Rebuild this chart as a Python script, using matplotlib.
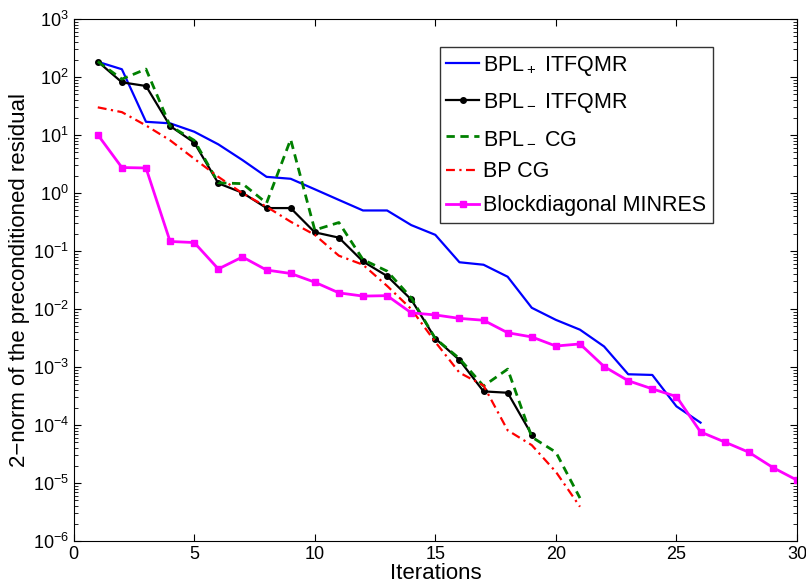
import matplotlib
matplotlib.use("Agg")
import matplotlib.pyplot as plt
from matplotlib.ticker import MultipleLocator, LogLocator, NullFormatter

plt.rcParams['font.family'] = ['Liberation Sans', 'DejaVu Sans']
plt.rcParams['mathtext.fontset'] = 'custom'
plt.rcParams['mathtext.rm'] = 'Liberation Sans'
plt.rcParams['mathtext.it'] = 'Liberation Sans:italic'
plt.rcParams['mathtext.bf'] = 'Liberation Sans:bold'

# residual histories
blue = [183, 136, 16.9, 15.9, 11.4, 6.9, 3.7, 1.9, 1.76, 1.16, 0.76, 0.50, 0.50,
        0.28, 0.19, 0.064, 0.058, 0.036, 0.0105, 0.0065, 0.0044, 0.00226,
        0.00075, 0.00073, 0.00021, 0.00011]
black = [185, 81, 70, 14.3, 7.4, 1.47, 1.01, 0.55, 0.55, 0.21, 0.17, 0.066,
         0.037, 0.0146, 0.0031, 0.00132, 0.00038, 0.00036, 6.8e-5]
green = [185, 92, 137, 14.3, 8.1, 1.5, 1.45, 0.67, 8.4, 0.23, 0.31, 0.071,
         0.045, 0.0156, 0.0031, 0.0014, 0.00047, 0.00092, 6.2e-5, 3.4e-5, 5.5e-6]
red = [30, 24.8, 14.6, 8.1, 3.9, 1.9, 0.99, 0.58, 0.32, 0.19, 0.083, 0.058,
       0.025, 0.010, 0.0027, 0.0008, 0.00048, 8.1e-5, 4.5e-5, 1.56e-5, 3.9e-6]
magenta = [10.1, 2.75, 2.7, 0.146, 0.14, 0.049, 0.079, 0.047, 0.041, 0.029,
           0.019, 0.0167, 0.017, 0.0086, 0.0079, 0.0069, 0.0064, 0.0039, 0.0033,
           0.0023, 0.0025, 0.00102, 0.00058, 0.00042, 0.00031, 7.6e-5, 5.1e-5,
           3.4e-5, 1.85e-5, 1.12e-5]

labels = [r'BPL$_+$ ITFQMR', r'BPL$_-$ ITFQMR', r'BPL$_-$ CG', 'BP CG',
          'Blockdiagonal MINRES']

def its(v):
    return list(range(1, len(v) + 1))

fig = plt.figure(figsize=(8.06, 5.83), dpi=100)
ax = fig.add_axes([0.0914, 0.072, 0.8974, 0.8954])

ax.semilogy(its(blue), blue, color='blue', lw=1.6, label=labels[0])
ax.semilogy(its(black), black, color='black', lw=1.6, marker='o', ms=4,
            label=labels[1])
ax.semilogy(its(green), green, color=(0, 0.5, 0), lw=2, ls=(0, (3, 2)),
            label=labels[2])
ax.semilogy(its(red), red, color='red', lw=1.6, ls=(0, (4, 2, 1, 2)),
            label=labels[3])
ax.semilogy(its(magenta), magenta, color='magenta', lw=2, marker='s', ms=5,
            label=labels[4])

ax.set_xlim(0, 30)
ax.set_ylim(1e-6, 1e3)
ax.xaxis.set_major_locator(MultipleLocator(5))
ax.yaxis.set_major_locator(LogLocator(base=10, numticks=20))
ax.yaxis.set_minor_locator(LogLocator(base=10, subs=range(2, 10), numticks=20))
ax.yaxis.set_minor_formatter(NullFormatter())
ax.tick_params(which='both', direction='in', top=True, right=True, labelsize=13)
ax.tick_params(which='major', length=5)
ax.tick_params(which='minor', length=3)

ax.set_xlabel('Iterations', fontsize=16, labelpad=0)
ax.set_ylabel('2\u2212norm of the preconditioned residual', fontsize=16, labelpad=2)

leg = ax.legend(loc='upper left', bbox_to_anchor=(0.5064, 0.946), borderaxespad=0,
                fontsize=15.5, frameon=True, fancybox=False, edgecolor='black',
                handlelength=1.5, handletextpad=0.2, labelspacing=0.6,
                borderpad=0.3)
leg.get_frame().set_linewidth(1)

plt.savefig('out.png', dpi=100)
